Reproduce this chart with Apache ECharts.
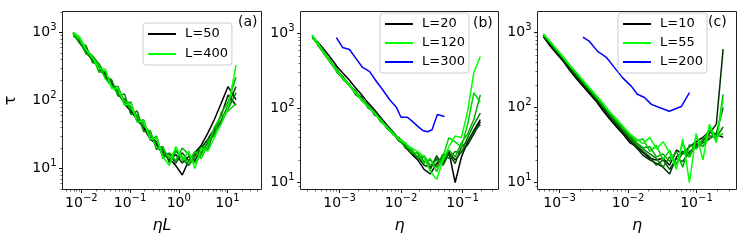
<!DOCTYPE html>
<html><head><meta charset="utf-8">
<script src="https://cdn.jsdelivr.net/npm/echarts@6/dist/echarts.min.js"></script>
<style>html,body{margin:0;padding:0;background:#fff;}#c{width:748px;height:243px;}</style>
</head><body><div id="c"></div>
<script>
// ---------- Panel (a): tau vs eta*L ----------
const aEtaL = [0.0068, 0.0092, 0.0125, 0.017, 0.023, 0.031, 0.042, 0.057, 0.077, 0.104, 0.14, 0.19, 0.26, 0.35, 0.47, 0.64, 0.87, 1.18, 1.6, 2.15, 2.9, 3.95, 5.35, 7.4, 10.3, 15];
const aL = [50, 75, 100, 150, 200, 300, 400];
const aTau50  = [1000, 720, 500, 400, 300, 250, 165, 130, 88, 70, 52, 40, 27, 23, 16, 14, 11, 8, 13, 17, 22, 33, 52, 90, 160, 103];
const aTau75  = [950, 780, 580, 430, 290, 230, 185, 120, 105, 72, 60, 41, 33, 22, 19, 13, 16, 12, 15, 13, 20, 27, 38, 60, 120, 85];
const aTau100 = [980, 700, 540, 450, 340, 220, 170, 140, 95, 80, 55, 45, 29, 25, 17, 16, 12, 17, 13, 16, 17, 24, 33, 50, 85, 160];
const aTau150 = [1000, 700, 640, 360, 350, 230, 200, 115, 125, 62, 70, 35, 36, 19, 21, 12, 18, 14, 11, 15, 21, 19, 36, 46, 75, 130];
const aTau200 = [880, 780, 480, 450, 260, 270, 160, 160, 90, 95, 48, 52, 26, 30, 14, 17, 13, 20, 16, 12, 16, 26, 30, 65, 95, 220];
const aTau300 = [960, 800, 560, 440, 330, 210, 160, 128, 100, 76, 58, 43, 34, 20, 20, 14, 19, 15, 12, 18, 14, 22, 40, 58, 70, 90];
const aTau400 = [1000, 860, 560, 420, 290, 290, 150, 150, 85, 90, 48, 50, 27, 28, 15, 11, 21, 13, 18, 10, 20, 18, 28, 45, 80, 330];

// ---------- Panel (b): tau vs eta ----------
const bEta = [3.6e-4, 4.5e-4, 5.7e-4, 7.2e-4, 9.1e-4, 1.15e-3, 1.45e-3, 1.83e-3, 2.3e-3, 2.9e-3, 3.7e-3, 4.6e-3, 5.8e-3, 7.4e-3, 9.3e-3, 1.18e-2, 1.49e-2, 1.88e-2, 2.37e-2, 3.0e-2, 3.8e-2, 4.8e-2, 6.0e-2, 7.6e-2, 9.6e-2, 0.121, 0.153, 0.195];
const bL = [20, 30, 40, 60, 80, 100, 120];
const bTau20  = [900, 760, 600, 470, 360, 290, 235, 185, 150, 118, 95, 76, 60, 48, 38, 30, 24, 20, 15, 13, 18, 22, 26, 10, 22, 35, 50, 70];
const bTau30  = [930, 700, 540, 410, 330, 250, 200, 170, 128, 110, 85, 72, 55, 47, 36, 32, 25, 22, 17, 16, 21, 18, 25, 20, 26, 32, 45, 65];
const bTau40  = [880, 720, 560, 400, 310, 262, 196, 160, 140, 100, 90, 68, 58, 44, 40, 29, 27, 21, 22, 15, 23, 17, 24, 18, 30, 36, 48, 60];
const bTau60  = [950, 690, 530, 430, 300, 245, 210, 150, 132, 112, 80, 73, 54, 45, 36, 33, 24, 25, 19, 20, 16, 24, 21, 26, 25, 40, 60, 85];
const bTau80  = [920, 740, 520, 400, 330, 240, 200, 168, 125, 104, 88, 66, 56, 48, 37, 30, 28, 21, 23, 17, 20, 19, 27, 22, 34, 45, 70, 150];
const bTau100 = [900, 700, 560, 420, 315, 250, 205, 158, 130, 106, 84, 70, 57, 44, 39, 34, 26, 24, 18, 21, 14, 22, 40, 35, 30, 60, 160, 120];
const bTau120 = [950, 730, 540, 410, 310, 248, 198, 162, 128, 104, 86, 69, 56, 45, 38, 33, 29, 26, 22, 14, 11, 20, 30, 42, 40, 90, 300, 490];
const bEta300 = [8.9e-4, 1.12e-3, 1.45e-3, 1.9e-3, 2.37e-3, 3.07e-3, 3.99e-3, 5.0e-3, 6.5e-3, 8.4e-3, 1.0e-2, 1.27e-2, 1.53e-2, 1.86e-2, 2.25e-2, 2.7e-2, 3.2e-2, 3.9e-2, 5.1e-2];
const bTau300 = [880, 650, 610, 450, 350, 310, 227, 177, 130, 102, 75, 75, 66, 57, 50, 48, 51, 82, 77];

// ---------- Panel (c): tau vs eta ----------
const cEta = [5.8e-4, 7.3e-4, 9.1e-4, 1.14e-3, 1.42e-3, 1.78e-3, 2.22e-3, 2.78e-3, 3.5e-3, 4.35e-3, 5.4e-3, 6.8e-3, 8.5e-3, 1.06e-2, 1.33e-2, 1.66e-2, 2.08e-2, 2.6e-2, 3.25e-2, 4.05e-2, 5.1e-2, 6.3e-2, 7.9e-2, 9.9e-2, 0.124, 0.155, 0.195, 0.245];
const cL = [10, 15, 20, 25, 30, 40, 55];
const cTau10 = [880, 660, 520, 410, 310, 240, 190, 150, 118, 90, 70, 55, 44, 34, 30, 25, 21, 20, 21, 17, 27, 24, 30, 35, 40, 48, 44, 40];
const cTau15 = [900, 700, 540, 420, 330, 255, 200, 158, 124, 96, 74, 58, 46, 36, 29, 23, 20, 18, 16, 13, 22, 26, 24, 32, 36, 45, 60, 600];
const cTau20 = [920, 720, 560, 440, 340, 262, 210, 165, 128, 100, 79, 61, 48, 38, 31, 26, 22, 17, 20, 15, 21, 19, 26, 30, 34, 38, 45, 100];
const cTau25 = [940, 730, 575, 450, 350, 275, 215, 170, 132, 104, 82, 64, 51, 40, 33, 28, 24, 21, 16, 22, 18, 25, 22, 34, 30, 42, 40, 55];
const cTau30 = [950, 740, 580, 455, 355, 280, 220, 172, 135, 106, 84, 66, 52, 42, 34, 29, 30, 22, 24, 19, 26, 16, 32, 28, 38, 50, 36, 150];
const cTau40 = [930, 750, 590, 460, 360, 285, 225, 176, 138, 110, 86, 68, 55, 44, 36, 38, 26, 31, 20, 27, 17, 33, 22, 40, 30, 55, 40, 45];
const cTau55 = [960, 760, 600, 470, 365, 290, 228, 180, 142, 112, 88, 70, 56, 45, 38, 33, 40, 28, 35, 25, 15, 38, 10, 45, 20, 60, 34, 130];
const cEta200 = [2.2e-3, 2.74e-3, 3.6e-3, 4.85e-3, 6.35e-3, 8.3e-3, 1.13e-2, 1.37e-2, 1.74e-2, 2.2e-2, 2.87e-2, 4.0e-2, 6.0e-2, 7.9e-2];
const cTau200 = [870, 760, 560, 465, 340, 250, 190, 150, 136, 110, 100, 89, 103, 158];

// ---------- tick labels ----------
const aXTicks = [0.01, 0.1, 1, 10];
const bXTicks = [0.001, 0.01, 0.1];
const cXTicks = [0.001, 0.01, 0.1];
const yTicks = [10, 100, 1000];

// ---------- styling ----------
const ramp = ['#000000', '#002b00', '#005500', '#008000', '#00aa00', '#00d500', '#00ff00'];
const FONT = 'DejaVu Sans';

function minorTicks(lo, hi) {
  const out = [];
  for (let e = Math.floor(Math.log10(lo)); e <= Math.ceil(Math.log10(hi)); e++) {
    for (let m = 2; m <= 9; m++) {
      const v = +(m * Math.pow(10, e)).toPrecision(3);
      if (v > lo && v < hi) out.push(v);
    }
  }
  return out;
}
function powLabel(v) {
  const e = Math.round(Math.log10(v));
  return '{b|10}{s|' + (e < 0 ? '\u2212' + (-e) : '' + e) + '}';
}
const rich = {
  b: { fontSize: 14, fontFamily: FONT, color: '#000', lineHeight: 20 },
  s: { fontSize: 10, fontFamily: FONT, color: '#000', lineHeight: 11, verticalAlign: 'top' }
};

const panels = [
  { grid: { left: 62.5, top: 11.5, width: 199, height: 178 }, xr: [0.0041, 50], yr: [4.9, 2035], xt: aXTicks, name: 'ηL', yname: 'τ' },
  { grid: { left: 300.5, top: 11.5, width: 198, height: 178 }, xr: [2.32e-4, 0.385], yr: [8.05, 1973], xt: bXTicks, name: 'η' },
  { grid: { left: 537.5, top: 11.5, width: 199, height: 178 }, xr: [4.77e-4, 0.384], yr: [8.07, 1905], xt: cXTicks, name: 'η' }
];

const grids = [], xAxes = [], yAxes = [];
panels.forEach((p, i) => {
  grids.push(Object.assign({ show: true, borderColor: '#222', borderWidth: 1, backgroundColor: 'transparent' }, p.grid));
  xAxes.push({
    type: 'log', gridIndex: i, min: p.xr[0], max: p.xr[1], position: 'bottom',
    axisLine: { show: false }, splitLine: { show: false },
    axisTick: { show: true, customValues: p.xt, length: 3.5, lineStyle: { color: '#000', width: 0.9 } },
    axisLabel: { customValues: p.xt, formatter: powLabel, rich: rich, margin: 4 },
    name: p.name, nameLocation: 'middle', nameGap: 28,
    nameTextStyle: { fontFamily: FONT, fontStyle: 'italic', fontSize: 16, color: '#000', verticalAlign: 'top' }
  });
  xAxes.push({
    type: 'log', gridIndex: i, min: p.xr[0], max: p.xr[1], position: 'bottom',
    axisLine: { show: false }, splitLine: { show: false }, axisLabel: { show: false },
    axisTick: { show: true, customValues: minorTicks(p.xr[0], p.xr[1]), length: 2, lineStyle: { color: '#000', width: 0.6 } }
  });
  yAxes.push({
    type: 'log', gridIndex: i, min: p.yr[0], max: p.yr[1], position: 'left',
    axisLine: { show: false }, splitLine: { show: false },
    axisTick: { show: true, customValues: yTicks, length: 3.5, lineStyle: { color: '#000', width: 0.9 } },
    axisLabel: { customValues: yTicks, formatter: powLabel, rich: rich, margin: 6 },
    name: p.yname || '', nameLocation: 'middle', nameGap: 44,
    nameTextStyle: { fontFamily: FONT, fontSize: 16, color: '#000' }
  });
  yAxes.push({
    type: 'log', gridIndex: i, min: p.yr[0], max: p.yr[1], position: 'left',
    axisLine: { show: false }, splitLine: { show: false }, axisLabel: { show: false },
    axisTick: { show: true, customValues: minorTicks(p.yr[0], p.yr[1]), length: 2, lineStyle: { color: '#000', width: 0.6 } }
  });
});

function mk(name, xs, ys, color, pi) {
  return {
    type: 'line', name: name, xAxisIndex: pi * 2, yAxisIndex: pi * 2,
    data: xs.map((x, k) => [x, ys[k]]),
    symbol: 'none', showSymbol: false, color: color,
    lineStyle: { width: 1.5, color: color }, animation: false, silent: true
  };
}
const series = [];
const aTau = [aTau50, aTau75, aTau100, aTau150, aTau200, aTau300, aTau400];
const bTau = [bTau20, bTau30, bTau40, bTau60, bTau80, bTau100, bTau120];
const cTau = [cTau10, cTau15, cTau20, cTau25, cTau30, cTau40, cTau55];
const aShow = ['L=50', 'L=400'], bShow = ['L=20', 'L=120'], cShow = ['L=10', 'L=55'];
aTau.forEach((ys, k) => { const n = 'L=' + aL[k]; series.push(mk(aShow.includes(n) ? n : n + ' (a)', aEtaL, ys, ramp[k], 0)); });
bTau.forEach((ys, k) => { const n = 'L=' + bL[k]; series.push(mk(bShow.includes(n) ? n : n + ' (b)', bEta, ys, ramp[k], 1)); });
cTau.forEach((ys, k) => { const n = 'L=' + cL[k]; series.push(mk(cShow.includes(n) ? n : n + ' (c)', cEta, ys, ramp[k], 2)); });
series.push(mk('L=300', bEta300, bTau300, '#0000ff', 1));
series.push(mk('L=200', cEta200, cTau200, '#0000ff', 2));

function legend(data, left, top, gap) {
  return {
    data: data, orient: 'vertical', left: left, top: top, itemGap: gap,
    itemWidth: 28, itemHeight: 2, icon: 'rect',
    padding: [4, 4, 4, 5], borderColor: '#cccccc', borderWidth: 1, borderRadius: 3,
    backgroundColor: 'rgba(255,255,255,0.8)', selectedMode: false,
    textStyle: { fontFamily: FONT, fontSize: 13, color: '#000', lineHeight: 14, padding: [0, 0, 0, 4] }
  };
}

const chart = echarts.init(document.getElementById('c'), null, { renderer: 'canvas' });
chart.setOption({
  animation: false,
  backgroundColor: '#fff',
  grid: grids, xAxis: xAxes, yAxis: yAxes, series: series,
  legend: [
    legend(['L=50', 'L=400'], 143, 23, 6),
    legend(['L=20', 'L=120', 'L=300'], 380, 13, 5),
    legend(['L=10', 'L=55', 'L=200'], 618, 13, 5)
  ],
  graphic: [
    { type: 'text', left: 238, top: 15, style: { text: '(a)', font: '14px "DejaVu Sans"', fill: '#000' } },
    { type: 'text', left: 473, top: 16, style: { text: '(b)', font: '14px "DejaVu Sans"', fill: '#000' } },
    { type: 'text', left: 708, top: 15, style: { text: '(c)', font: '14px "DejaVu Sans"', fill: '#000' } }
  ]
});
</script></body></html>
